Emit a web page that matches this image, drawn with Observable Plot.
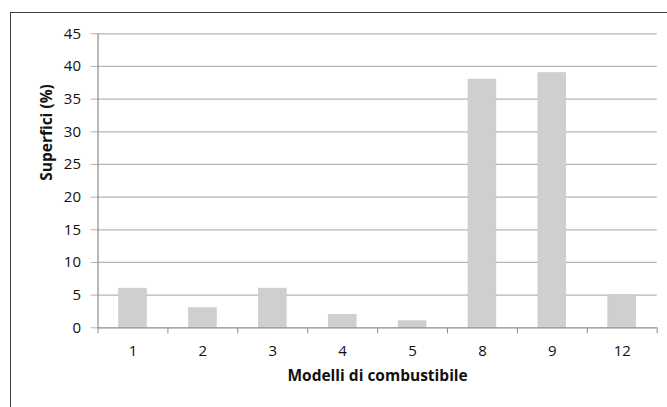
<!DOCTYPE html>
<html>
<head>
<meta charset="utf-8">
<script src="https://cdn.jsdelivr.net/npm/d3@7"></script>
<script src="https://cdn.jsdelivr.net/npm/@observablehq/plot@0.6"></script>
<style>
  html, body { margin: 0; padding: 0; background: #fff; overflow: hidden; }
  #wrap { position: relative; width: 667px; height: 407px; overflow: hidden; }
  #border { position: absolute; left: 10px; top: 12px; width: 700px; height: 420px;
            border-top: 1.5px solid #404040; border-left: 1.5px solid #404040; box-sizing: border-box; }
  #chart { position: absolute; left: 0; top: 0; }
</style>
</head>
<body>
<div id="wrap"><div id="border"></div><div id="chart"></div></div>
<script>
const categories = ["1", "2", "3", "4", "5", "8", "9", "12"];
const values = [6, 3, 6, 2, 1, 38, 39, 5];
const yTicks = [0, 5, 10, 15, 20, 25, 30, 35, 40, 45];
const xTitle = "Modelli di combustibile";
const yTitle = "Superfici (%)";

const data = categories.map((c, i) => ({cat: c, idx: i, value: values[i]}));
const grid = "#b4b4b4";
const axisCol = "#8c8c8c";
const font = "Open Sans";

const plot = Plot.plot({
  width: 667,
  height: 407,
  marginLeft: 97.5,
  marginRight: 10.3,
  marginTop: 33.3,
  marginBottom: 79.7,
  style: {fontFamily: font, fontSize: "15px", color: "#111", background: "transparent"},
  x: {type: "linear", domain: [0, categories.length]},
  y: {domain: [0, 45]},
  marks: [
    Plot.ruleY(yTicks.filter(v => v > 0), {stroke: grid, strokeWidth: 1.2}),
    Plot.axisY({ticks: yTicks, tickSize: 7, tickPadding: 10, stroke: grid, label: null,
                fontSize: 15, fontFamily: font}),
    Plot.rectY(data, {x1: d => d.idx + 0.3, x2: d => d.idx + 0.7, y1: 0, y2: "value", fill: "#d0cfcf", stroke: "#c8c8c8", strokeWidth: 0.5}),
    Plot.ruleX([0], {stroke: axisCol, strokeWidth: 1.2}),
    Plot.ruleY([0], {stroke: axisCol, strokeWidth: 1.2}),
    Plot.axisX({ticks: d3.range(categories.length + 1), tickSize: 6, tickFormat: () => "", stroke: axisCol, label: null}),
    Plot.axisX({ticks: categories.map((c, i) => i + 0.5), tickSize: 0, tickPadding: 18,
                tickFormat: v => categories[Math.floor(v)], label: null, fontSize: 15, fontFamily: font}),
    Plot.text([xTitle], {frameAnchor: "bottom", dy: 53, fontWeight: "bold", fontSize: 15.5, fontFamily: font, text: d => d}),
    Plot.text([yTitle], {frameAnchor: "left", dx: -51, rotate: -90, fontWeight: "bold", fontSize: 15.5, fontFamily: font, text: d => d})
  ]
});
document.getElementById("chart").appendChild(plot);
</script>
</body>
</html>
